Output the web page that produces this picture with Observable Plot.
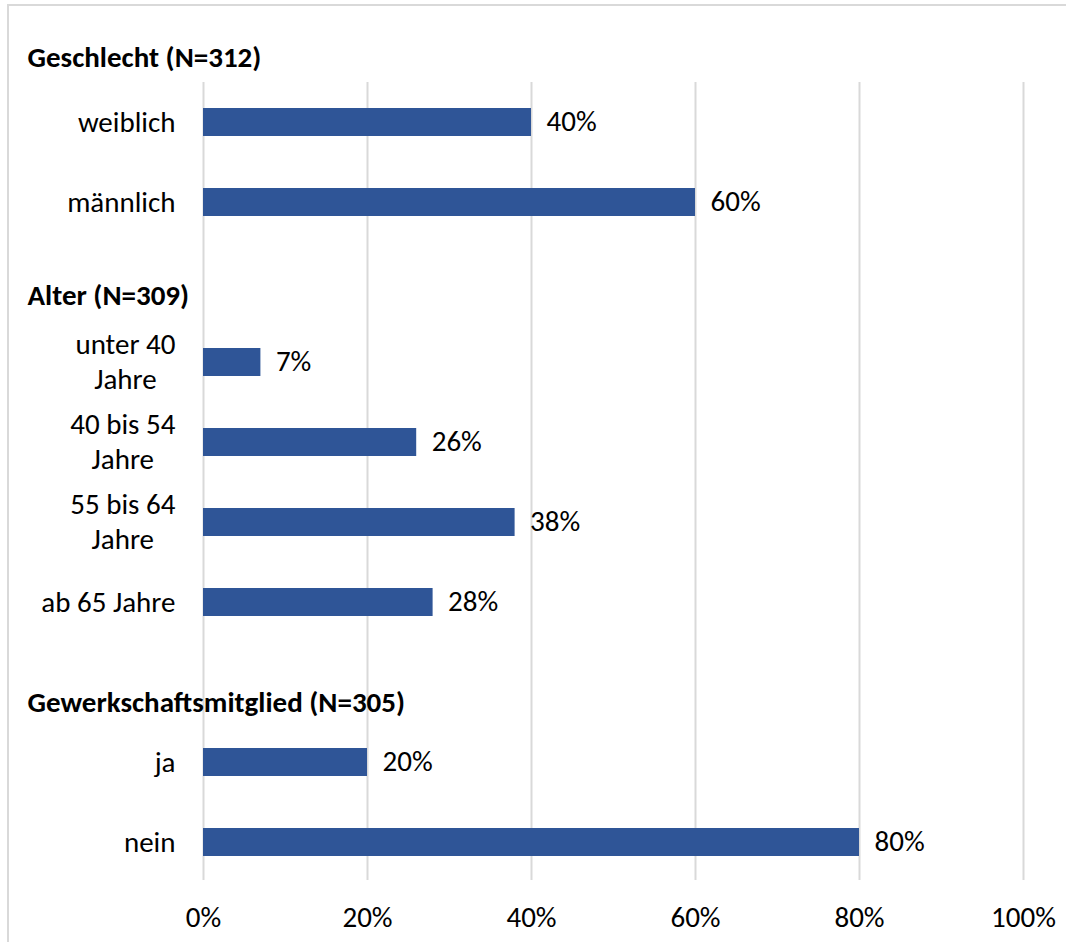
<!DOCTYPE html>
<html>
<head>
<meta charset="utf-8">
<script src="https://cdn.jsdelivr.net/npm/d3@7"></script>
<script src="https://cdn.jsdelivr.net/npm/@observablehq/plot@0.6"></script>
<style>
  html, body { margin: 0; padding: 0; background: #fff; }
  #wrap { position: relative; width: 1066px; height: 942px; overflow: hidden; }
  #border { position: absolute; left: 7px; top: 4px; width: 1200px; height: 1200px;
            border-left: 2px solid #d9d9d9; border-top: 2px solid #d9d9d9; pointer-events: none; }
  svg { position: absolute; left: 0; top: 0; }
</style>
</head>
<body>
<div id="wrap"><div id="border"></div></div>
<script>
const rows = ["weiblich", "männlich", "hdrAlter", "unter 40", "40 bis 54", "55 bis 64", "ab 65", "hdrGewerkschaft", "ja", "nein"];
const rowLabels = ["weiblich", "männlich", "", "unter 40\nJahre", "40 bis 54\nJahre", "55 bis 64\nJahre", "ab 65 Jahre", "", "ja", "nein"];
const values = [40, 60, null, 7, 26, 38, 28, null, 20, 80];
const headers = ["Geschlecht (N=312)", "Alter (N=309)", "Gewerkschaftsmitglied (N=305)"];
const headerRows = [null, "hdrAlter", "hdrGewerkschaft"];
const xTicks = [0, 20, 40, 60, 80, 100];

const data = rows.map((r, i) => ({row: r, value: values[i]})).filter(d => d.value != null);
const labelOf = new Map(rows.map((r, i) => [r, rowLabels[i]]));

const font = "Carlito, Calibri, Lato, sans-serif";
const fs = 29;

const chart = Plot.plot({
  width: 1066,
  height: 942,
  marginLeft: 203,
  marginRight: 43,
  marginTop: 82,
  marginBottom: 60,
  style: {fontFamily: font, fontSize: fs + "px", color: "#000", background: "transparent"},
  x: {domain: [0, 100], ticks: xTicks, tickFormat: d => d + "%", label: null},
  y: {domain: rows, paddingInner: 0.65, paddingOuter: 0.325, label: null},
  marks: [
    Plot.gridX(xTicks, {stroke: "#d9d9d9", strokeWidth: 2, strokeOpacity: 1, insetBottom: 2}),
    Plot.axisX({ticks: xTicks, tickFormat: d => d + "%", tickSize: 0, tickPadding: 24, fontSize: fs, label: null}),
    Plot.axisY({tickSize: 0, tickPadding: 28, dy: -2, tickFormat: d => labelOf.get(d), fontSize: fs, lineHeight: 1.2, label: null}),
    Plot.barX(data, {x: "value", y: "row", fill: "#2F5597"}),
    Plot.text(data, {x: "value", y: "row", text: d => d.value + "%", textAnchor: "start", dx: 15, dy: -1, fontSize: fs, fill: "#000"}),
    Plot.text([headers[0]], {x: [0], frameAnchor: "top", lineAnchor: "middle", dy: -25, dx: -176, textAnchor: "start", fontWeight: "bold", fontSize: fs, fill: "#000"}),
    Plot.text([headers[1]], {x: [0], y: [headerRows[1]], dy: 13, dx: -176, textAnchor: "start", fontWeight: "bold", fontSize: fs, fill: "#000"}),
    Plot.text([headers[2]], {x: [0], y: [headerRows[2]], dy: 20, dx: -176, textAnchor: "start", fontWeight: "bold", fontSize: fs, fill: "#000"})
  ]
});
document.getElementById("wrap").append(chart);

// center multi-line y tick labels within their block (right edge kept)
chart.querySelectorAll("g[aria-label='y-axis tick label'] text").forEach(t => {
  const spans = t.querySelectorAll("tspan");
  if (spans.length > 1) {
    const w = t.getBBox().width;
    t.setAttribute("text-anchor", "middle");
    const tr = t.getAttribute("transform") || "";
    t.setAttribute("transform", tr + ` translate(${-w / 2},0)`);
  }
});
</script>
</body>
</html>
